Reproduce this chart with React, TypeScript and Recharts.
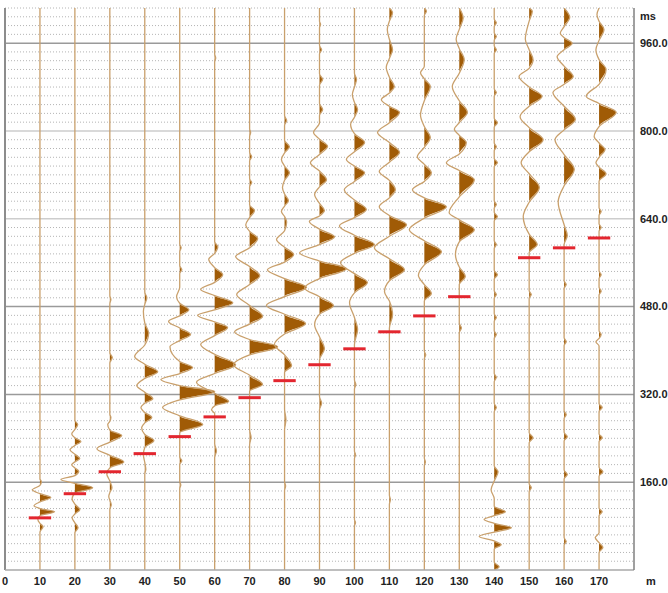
import {
  ComposedChart,
  Line,
  Area,
  XAxis,
  YAxis,
  CartesianGrid,
  ReferenceLine,
} from "recharts";

// receiver offsets (m) and bottom axis labels
const OFFSETS = [10, 20, 30, 40, 50, 60, 70, 80, 90, 100, 110, 120, 130, 140, 150, 160, 170];
const X_TICKS = [0, 10, 20, 30, 40, 50, 60, 70, 80, 90, 100, 110, 120, 130, 140, 150, 160, 170];

// time axis (ms)
const TIME_TICKS = [160, 320, 480, 640, 800, 960];
const DARK_TIME_LINES = [160, 320, 480, 960];
const FAINT_TIME_LINES = [640, 800];
const FINE_TICKS = Array.from({ length: 64 }, (_, i) => (i + 1) * 16).filter(
  (v) => !TIME_TICKS.includes(v)
);

// first-break picks per trace (ms), none on the 140 m trace
const PICKS: (number | null)[] = [95, 139, 179, 212, 243, 279, 314, 345, 374, 403, 434, 463, 498, null, 569, 587, 605];

// [time ms, amplitude m] along each trace
type Sample = [number, number];

const TRACE_10: Sample[] = [[0,0],[69,0],[79,0.9],[85,0],[92,-0.6],[99,0],[106,4.2],[112,0],[117,-1.7],[124,0],[132,3.1],[139,0],[146,-2.2],[154,0],[161,0.4],[166,0],[1024,0]];
const TRACE_20: Sample[] = [[0,0],[68,0],[77,0.9],[86,0],[95,-0.8],[102,0],[110,1.4],[120,0],[130,-0.8],[140,0],[150,5.1],[158,0],[165,-4.0],[172,0],[180,1.1],[186,0],[192,-0.9],[197,0],[203,1.4],[211,0],[219,-1.4],[227,0],[234,1.7],[241,0],[248,-0.9],[256,0],[265,0.8],[273,0],[1024,0]];
const TRACE_30: Sample[] = [[0,0],[110,0],[119,0.4],[127,0],[134,-0.3],[141,0],[150,0.6],[162,0],[176,-0.9],[186,0],[197,4.0],[209,0],[221,-3.7],[233,0],[245,3.4],[255,0],[265,-0.6],[271,0],[278,0.3],[284,0],[377,0],[387,0.7],[396,0],[485,0],[493,0.3],[500,0],[1024,0]];
const TRACE_40: Sample[] = [[0,0],[175,0],[183,0.3],[196,0],[210,-0.4],[223,0],[236,2.6],[247,0],[259,-0.9],[268,0],[278,2.0],[287,0],[296,-1.1],[304,0],[312,2.3],[324,0],[336,-2.3],[349,0],[361,3.7],[375,0],[389,-2.9],[410,0],[432,1.1],[450,0],[471,-0.4],[484,0],[496,0.6],[506,0],[1024,0]];
const TRACE_50: Sample[] = [[0,0],[148,0],[155,0.3],[162,0],[192,0],[199,0.6],[206,0],[250,0],[265,6.6],[281,0],[296,-4.9],[310,0],[325,10.0],[336,0],[347,-5.4],[358,0],[369,3.7],[380,0],[407,-2.8],[418,0],[429,3.1],[441,0],[453,-3.2],[463,0],[474,2.6],[486,0],[498,-0.9],[515,0],[540,0],[547,0.6],[555,0],[580,0],[587,0.4],[594,0],[1024,0]];
const TRACE_60: Sample[] = [[0,0],[205,0],[217,0.5],[230,0],[285,0],[292,-0.9],[299,0],[307,4.0],[322,0],[342,-5.2],[358,0],[374,6.0],[393,0],[411,-4.0],[427,0],[442,3.7],[452,0],[464,-4.9],[474,0],[487,5.2],[500,0],[511,-4.0],[524,0],[538,2.3],[551,0],[566,-1.7],[577,0],[589,0.9],[598,0],[926,0],[933,0.3],[940,0],[1024,0]];
const TRACE_70: Sample[] = [[0,0],[228,0],[242,0.4],[256,0],[326,0],[338,3.7],[355,0],[374,-4.6],[392,0],[407,8.0],[420,0],[434,-4.3],[448,0],[462,3.7],[482,0],[502,-3.7],[520,0],[536,2.9],[553,0],[571,-4.0],[587,0],[604,2.3],[617,0],[629,-1.1],[642,0],[655,1.4],[665,0],[698,0],[706,0.6],[713,0],[745,0],[753,0.6],[761,0],[790,0],[797,0.3],[804,0],[1024,0]];
const TRACE_80: Sample[] = [[0,0],[145,0],[153,0.3],[161,0],[255,0],[274,0.4],[293,0],[360,0],[372,2.0],[392,0],[411,-2.9],[430,0],[449,6.0],[466,0],[482,-5.2],[498,0],[515,6.3],[531,0],[547,-4.9],[561,0],[575,2.6],[588,0],[602,-2.3],[618,0],[634,0.6],[644,0],[653,-0.9],[663,0],[673,1.1],[685,0],[697,-0.6],[710,0],[724,1.4],[736,0],[748,-0.9],[760,0],[771,1.4],[783,0],[810,0],[819,0.6],[828,0],[1024,0]];
const TRACE_90: Sample[] = [[0,0],[292,0],[304,0.6],[316,0],[383,0],[403,1.4],[425,0],[447,-1.4],[466,0],[482,4.0],[498,0],[514,-4.3],[531,0],[549,7.7],[563,0],[578,-5.7],[593,0],[607,4.3],[621,0],[635,-2.9],[645,0],[655,1.4],[668,0],[684,-1.4],[698,0],[711,2.0],[727,0],[742,-2.6],[757,0],[772,2.3],[785,0],[797,-1.7],[815,0],[828,0],[839,0.9],[850,0],[883,0],[894,0.9],[904,0],[940,0],[948,0.6],[956,0],[988,0],[994,0.3],[1000,0],[1024,0]];
const TRACE_100: Sample[] = [[0,0],[80,0],[86,0.3],[92,0],[203,0],[210,0.3],[217,0],[330,0],[338,0.4],[346,0],[411,0],[438,0.9],[460,0],[487,-1.4],[505,0],[524,3.7],[540,0],[560,-4.0],[577,0],[593,5.7],[610,0],[627,-4.3],[642,0],[657,3.4],[674,0],[693,-2.9],[708,0],[724,2.9],[736,0],[748,-2.3],[762,0],[779,2.9],[795,0],[812,-1.1],[825,0],[839,0.9],[852,0],[866,-0.6],[880,0],[894,0.6],[905,0],[1024,0]];
const TRACE_110: Sample[] = [[0,0],[120,0],[128,0.3],[136,0],[440,0],[465,0.9],[490,0],[507,-1.4],[527,0],[547,4.3],[567,0],[587,-4.3],[608,0],[629,4.9],[646,0],[662,-2.9],[678,0],[693,1.7],[710,0],[726,-2.9],[743,0],[761,2.9],[779,0],[797,-3.4],[815,0],[834,2.9],[845,0],[857,-2.3],[869,0],[881,1.4],[898,0],[916,-0.9],[932,0],[948,0.9],[967,0],[985,-0.6],[1000,0],[1016,0.9],[1024,0]];
const TRACE_120: Sample[] = [[0,0],[190,0],[197,0.3],[204,0],[385,0],[392,0.4],[399,0],[490,0],[504,2.0],[520,0],[537,-1.7],[556,0],[580,4.9],[600,0],[620,-4.3],[641,0],[662,6.3],[678,0],[693,-3.4],[708,0],[724,2.0],[739,0],[753,-2.0],[770,0],[788,1.7],[808,0],[829,-1.1],[855,0],[881,1.7],[895,0],[906,-1.1],[918,0],[1010,0],[1018,0.6],[1024,0]];
const TRACE_130: Sample[] = [[0,0],[432,0],[441,0.6],[450,0],[520,0],[535,1.7],[552,0],[575,-1.1],[598,0],[620,4.3],[638,0],[651,-2.9],[680,0],[711,4.3],[728,0],[742,-3.7],[758,0],[779,2.0],[792,0],[803,-1.4],[815,0],[834,2.3],[855,0],[881,-2.0],[905,0],[930,1.4],[950,0],[967,-0.9],[985,0],[1006,1.1],[1024,0]];
const TRACE_140: Sample[] = [[0,0],[6,1.4],[14,0],[38,0],[46,2.0],[53,0],[61,-4.3],[69,0],[77,4.9],[85,0],[92,-2.9],[99,0],[106,3.2],[116,0],[130,0],[146,-0.9],[162,0],[179,1.1],[190,0],[288,0],[296,0.6],[304,0],[343,0],[351,0.6],[358,0],[422,0],[429,0.6],[436,0],[453,0],[460,0.6],[467,0],[495,0],[502,0.6],[509,0],[530,0],[538,0.9],[546,0],[586,0],[593,0.6],[600,0],[636,0],[644,0.9],[652,0],[659,0],[666,0.6],[673,0],[735,0],[742,0.9],[750,0],[764,0],[771,0.6],[778,0],[807,0],[815,0.9],[823,0],[863,0],[870,0.6],[877,0],[941,0],[948,0.6],[955,0],[965,0],[972,0.6],[979,0],[990,0],[997,0.6],[1004,0],[1024,0]];
const TRACE_150: Sample[] = [[0,0],[143,0],[150,0.6],[157,0],[232,0],[241,1.1],[250,0],[495,0],[502,0.6],[509,0],[578,0],[593,2.3],[612,0],[644,-1.7],[670,0],[697,2.9],[722,0],[742,-2.3],[762,0],[784,4.0],[806,0],[826,-2.6],[845,0],[863,3.7],[880,0],[899,-2.9],[914,0],[930,1.1],[948,0],[967,-1.1],[1000,0],[1018,0.9],[1024,0]];
const TRACE_160: Sample[] = [[0,0],[45,0],[52,0.6],[59,0],[166,0],[174,0.9],[182,0],[235,0],[243,0.9],[251,0],[276,0],[283,0.6],[290,0],[409,0],[416,0.6],[423,0],[513,0],[520,0.6],[527,0],[593,0],[609,0.9],[629,0],[671,-1.7],[700,0],[730,2.9],[757,0],[784,-2.6],[802,0],[821,3.2],[845,0],[870,-3.2],[885,0],[899,2.6],[918,0],[935,-2.0],[948,0],[960,2.3],[970,0],[978,-1.1],[990,0],[1007,1.6],[1024,0]];
const TRACE_170: Sample[] = [[0,0],[32,0],[41,1.1],[50,0],[59,-1.1],[68,0],[99,0],[106,0.9],[113,0],[171,0],[179,1.1],[187,0],[234,0],[241,0.9],[248,0],[289,0],[296,0.9],[303,0],[408,0],[416,-0.9],[422,0],[429,0.6],[436,0],[501,0],[508,0.6],[515,0],[531,0],[538,0.6],[545,0],[617,0],[624,0.6],[631,0],[646,0],[653,0.6],[660,0],[708,0],[722,2.0],[734,0],[742,-0.9],[752,0],[766,1.7],[778,0],[790,-1.4],[808,0],[834,4.9],[850,0],[863,-3.7],[885,0],[912,2.0],[930,0],[948,-0.9],[965,0],[985,1.4],[1000,0],[1012,-0.6],[1024,0]];

const TRACES = [
  TRACE_10, TRACE_20, TRACE_30, TRACE_40, TRACE_50, TRACE_60, TRACE_70, TRACE_80, TRACE_90,
  TRACE_100, TRACE_110, TRACE_120, TRACE_130, TRACE_140, TRACE_150, TRACE_160, TRACE_170,
];

// wiggle = trace line, lobe = positive half only (filled)
const TRACE_DATA = TRACES.map((trace, i) =>
  trace.map(([t, a]) => ({
    t,
    wiggle: OFFSETS[i] + a,
    lobe: OFFSETS[i] + Math.max(a, 0),
  }))
);

const PICK_HALF = 3.2;

const labelFont = {
  fontFamily: "'Liberation Sans', Arial, sans-serif",
  fontSize: 11,
  fontWeight: 700,
  fill: "#222",
};

export default function App() {
  return (
    <div style={{ position: "absolute", left: 0, top: 0, background: "#fff" }}>
      <ComposedChart
        layout="vertical"
        width={668}
        height={593}
        margin={{ top: 8, right: 0, bottom: 1, left: 5 }}
      >
        {/* timing lines sit under the traces */}
        <CartesianGrid
          vertical={false}
          horizontalValues={FINE_TICKS}
          stroke="#b4b4b4"
          strokeDasharray="1 2"
        />
        <CartesianGrid
          vertical={false}
          horizontalValues={FAINT_TIME_LINES}
          stroke="#cdcdcd"
          strokeWidth={1.5}
        />
        <CartesianGrid
          vertical={false}
          horizontalValues={DARK_TIME_LINES}
          stroke="#9a9a9a"
          strokeWidth={1.5}
        />
        <XAxis
          type="number"
          domain={[0, 180]}
          ticks={X_TICKS}
          interval={0}
          allowDataOverflow
          height={22}
          tickLine={false}
          tickSize={5}
          tickMargin={2}
          axisLine={{ stroke: "#a8a8a8", strokeWidth: 1.5 }}
          tick={labelFont}
          label={{ value: "m", position: "right", offset: 12, ...labelFont }}
        />
        <YAxis
          type="number"
          dataKey="t"
          orientation="right"
          reversed
          domain={[0, 1024]}
          ticks={TIME_TICKS}
          interval={0}
          allowDataOverflow
          width={34}
          tickLine={false}
          tickSize={0}
          tickMargin={6}
          axisLine={{ stroke: "#808080", strokeWidth: 1.5 }}
          tick={labelFont}
          tickFormatter={(v: number) => v.toFixed(1)}
          label={{ value: "ms", position: "insideTopLeft", offset: 4, dx: 2, ...labelFont }}
        />

        <ReferenceLine x={0} stroke="#8c8c8c" strokeWidth={2} />

        {TRACE_DATA.map((rows, i) => (
          <Area
            key={`lobe-${OFFSETS[i]}`}
            data={rows}
            dataKey="lobe"
            type="monotone"
            baseValue={OFFSETS[i]}
            stroke="none"
            fill="#a05b06"
            fillOpacity={1}
            isAnimationActive={false}
          />
        ))}
        {TRACE_DATA.map((rows, i) => (
          <Line
            key={`wiggle-${OFFSETS[i]}`}
            data={rows}
            dataKey="wiggle"
            type="monotone"
            stroke="#c9a06c"
            strokeWidth={1.3}
            dot={false}
            isAnimationActive={false}
          />
        ))}

        {PICKS.map((t, i) =>
          t === null ? null : (
            <ReferenceLine
              key={`pick-${OFFSETS[i]}`}
              segment={[
                { x: OFFSETS[i] - PICK_HALF, y: t },
                { x: OFFSETS[i] + PICK_HALF, y: t },
              ]}
              stroke="#e3262f"
              strokeWidth={3}
            />
          )
        )}
      </ComposedChart>
    </div>
  );
}
